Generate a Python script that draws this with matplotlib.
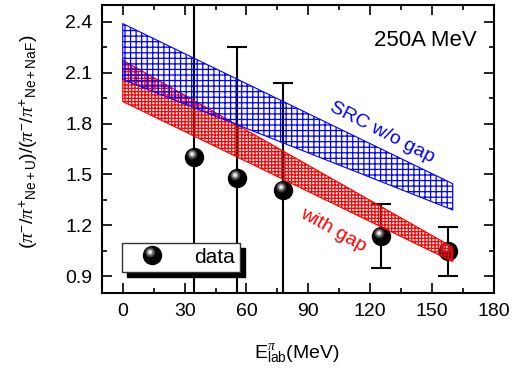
import matplotlib
matplotlib.use('Agg')
import matplotlib.pyplot as plt
import numpy as np
from matplotlib.path import Path
from matplotlib.ticker import MultipleLocator

plt.rcParams['font.family'] = 'Liberation Sans'
plt.rcParams['mathtext.fontset'] = 'custom'
plt.rcParams['mathtext.rm'] = 'Liberation Sans'
plt.rcParams['mathtext.it'] = 'Liberation Serif:italic'
plt.rcParams['hatch.linewidth'] = 0.9

# measured points
x_data = [34.4, 55.3, 77.8, 125.0, 157.5]
y_data = [1.60, 1.48, 1.41, 1.135, 1.045]
y_err = [1.0, 0.77, 0.63, 0.19, 0.145]

# calculation bands (end points)
band_x = [0, 160]
src_hi = [2.39, 1.445]
src_lo = [2.06, 1.29]
gap_hi = [2.175, 1.07]
gap_lo = [1.93, 0.985]


def sphere_layer(cx, cy, r):
	# circle inside a fixed [-1,1] box so the marker is not rescaled
	circ = Path.circle((cx, cy), r)
	verts = np.vstack([[[-1, -1], [1, 1]], circ.vertices])
	codes = np.concatenate([[Path.MOVETO, Path.MOVETO], circ.codes])
	return Path(verts, codes)


fig = plt.figure(figsize=(5.13, 3.81), dpi=100)
ax = fig.add_axes([0.199, 0.231, 0.764, 0.756])

ax.errorbar(x_data, y_data, yerr=y_err, fmt='none', ecolor='black',
            elinewidth=1.5, capsize=7, capthick=1.5, zorder=2)

layers = [(0, 0, 1.0, 'black'),
          (-0.22, 0.32, 0.52, '#3a3a3a'),
          (-0.24, 0.34, 0.36, '#858585'),
          (-0.25, 0.35, 0.2, '#e8e8e8')]
handles = []
for cx, cy, r, c in layers:
	h, = ax.plot(x_data, y_data, ls='none', marker=sphere_layer(cx, cy, r),
	             ms=14, mfc=c, mec='none', mew=0, zorder=3)
	handles.append(h)

ax.fill_between(band_x, gap_lo, gap_hi, facecolor='none', edgecolor='red',
                hatch='+++++', linewidth=0.8, zorder=4)
ax.fill_between(band_x, src_lo, src_hi, facecolor='none', edgecolor='blue',
                hatch='+++', linewidth=0.8, zorder=4)

ax.text(171.5, 2.29, '250A MeV', ha='right', va='center', fontsize=16)
ax.text(126, 1.745, 'SRC w/o gap', color='blue', rotation=-27,
        ha='center', va='center', fontsize=14, rotation_mode='anchor')
ax.text(102, 1.17, 'with gap', color='red', rotation=-29,
        ha='center', va='center', fontsize=14, rotation_mode='anchor')

ax.set_xlim(-10, 180)
ax.set_ylim(0.8, 2.5)
ax.xaxis.set_major_locator(MultipleLocator(30))
ax.xaxis.set_minor_locator(MultipleLocator(15))
ax.yaxis.set_major_locator(MultipleLocator(0.3))
ax.yaxis.set_minor_locator(MultipleLocator(0.15))
ax.yaxis.set_major_formatter(lambda v, p: '%.1f' % v)
ax.tick_params(which='both', direction='in', top=True, right=True,
               width=1.2, labelsize=14)
ax.tick_params(which='major', length=7, pad=7)
ax.tick_params(which='minor', length=3.5)
for s in ax.spines.values():
	s.set_linewidth(1.5)

ax.set_xlabel(r'E$^{\pi}_{\rm lab}$(MeV)', fontsize=14)
ax.xaxis.set_label_coords(0.497, -0.174)
ax.set_ylabel(r'($\pi^{-}/\pi^{+}{}_{\rm Ne+U}$)/($\pi^{-}/\pi^{+}{}_{\rm Ne+NaF}$)',
              fontsize=14)
ax.yaxis.set_label_coords(-0.158, 0.524)

leg_opts = dict(loc='lower left', borderaxespad=0, fontsize=15,
                fancybox=False, framealpha=1, borderpad=0.25,
                handlelength=2.4, handletextpad=0.8)

# black drop shadow: same legend, all black, shifted 5 px right/down
dx = 5 / 392.0
dy = 5 / 288.0
shadow = ax.legend([tuple(handles)], ['data'],
                   bbox_to_anchor=(0.051 + dx, 0.073 - dy),
                   edgecolor='black', facecolor='black', **leg_opts)
for t in shadow.get_texts():
	t.set_alpha(0)
ax.add_artist(shadow)

leg = ax.legend([tuple(handles)], ['data'], bbox_to_anchor=(0.051, 0.073),
                edgecolor='#333333', facecolor='white', **leg_opts)
leg.get_frame().set_linewidth(1.0)

fig.savefig('out.png', dpi=100)
